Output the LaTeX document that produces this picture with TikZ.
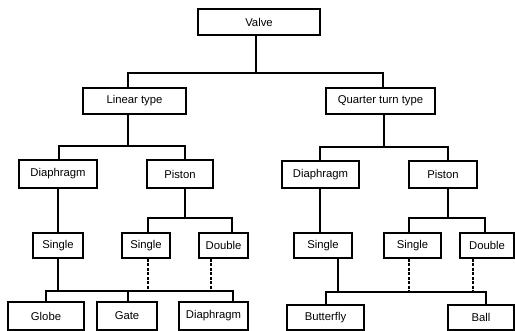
\documentclass[tikz,border=0pt]{standalone}
\usepackage{fontspec}
\setmainfont{Liberation Sans}
\begin{document}
\begin{tikzpicture}[x=1pt,y=-1pt,
  box/.style={draw,line width=1.2pt,rectangle,inner sep=0pt,font=\fontsize{11.3}{13}\selectfont},
  ln/.style={line width=1.2pt},
  dsh/.style={line width=1.2pt,dash pattern=on 3pt off 1.5pt}]
\useasboundingbox[fill=white] (0,0) rectangle (515,331);
% level 0
\node[box,minimum width=122pt,minimum height=26pt] (valve) at (259,22) {Valve};
% level 1
\node[box,minimum width=103pt,minimum height=26pt] (lin) at (134.5,101) {Linear type};
\node[box,minimum width=109pt,minimum height=26pt] (qt) at (380.5,101) {Quarter turn type};
% level 2
\node[box,minimum width=78pt,minimum height=28pt] (dia1) at (58,174) {Diaphragm};
\node[box,minimum width=66pt,minimum height=28pt] (pis1) at (180,174) {Piston};
\node[box,minimum width=77pt,minimum height=27pt] (dia2) at (320.5,174.5) {Diaphragm};
\node[box,minimum width=68pt,minimum height=27pt] (pis2) at (443,174.5) {Piston};
% level 3
\node[box,minimum width=50pt,minimum height=25pt] (sg1) at (58,245.5) {Single};
\node[box,minimum width=48pt,minimum height=25pt] (sg2) at (146,245.5) {Single};
\node[box,minimum width=49pt,minimum height=25pt] (db1) at (223.5,245.5) {Double};
\node[box,minimum width=58pt,minimum height=25pt] (sg3) at (323,245.5) {Single};
\node[box,minimum width=57pt,minimum height=25pt] (sg4) at (412.5,245.5) {Single};
\node[box,minimum width=54pt,minimum height=25pt] (db2) at (487,245.5) {Double};
% level 4
\node[box,minimum width=76pt,minimum height=28pt] (globe) at (46,316) {Globe};
\node[box,minimum width=60pt,minimum height=28pt] (gate) at (127,316) {Gate};
\node[box,minimum width=69pt,minimum height=28pt] (dia3) at (213.5,316) {Diaphragm};
\node[box,minimum width=77pt,minimum height=25pt] (bfly) at (325.5,317.5) {Butterfly};
\node[box,minimum width=66pt,minimum height=25pt] (ball) at (481,317.5) {Ball};
% junction coordinates
\coordinate (j0) at (256,73);
\coordinate (j0l) at (128,73);
\coordinate (j0r) at (383,73);
\coordinate (j1) at (128,146);
\coordinate (j1l) at (59,146);
\coordinate (j1r) at (185,146);
\coordinate (j2) at (384,147);
\coordinate (j2l) at (320,147);
\coordinate (j2r) at (448,147);
\coordinate (j3) at (185,218);
\coordinate (j3l) at (148,218);
\coordinate (j3r) at (232,218);
\coordinate (j4) at (448,218);
\coordinate (j4l) at (409,218);
\coordinate (j4r) at (485,218);
\coordinate (j5) at (58,291);
\coordinate (j5l) at (46,291);
\coordinate (j5m) at (128,291);
\coordinate (j5r) at (233,291);
\coordinate (j5a) at (148,291);
\coordinate (j5b) at (211,291);
\coordinate (j6) at (338,292);
\coordinate (j6l) at (326,292);
\coordinate (j6r) at (486,292);
\coordinate (j6a) at (409,292);
\coordinate (j6b) at (473,292);
% connectors
\draw[ln] (valve.south -| j0) -- (j0);
\draw[ln] (lin.north -| j0l) -- (j0l) -- (j0r) -- (qt.north -| j0r);
\draw[ln] (lin.south -| j1) -- (j1);
\draw[ln] (dia1.north -| j1l) -- (j1l) -- (j1r) -- (pis1.north -| j1r);
\draw[ln] (qt.south -| j2) -- (j2);
\draw[ln] (dia2.north -| j2l) -- (j2l) -- (j2r) -- (pis2.north -| j2r);
\draw[ln] (dia1.south -| sg1.north) -- (sg1.north);
\draw[ln] (dia2.south -| j2l) -- (sg3.north -| j2l);
\draw[ln] (pis1.south -| j3) -- (j3);
\draw[ln] (sg2.north -| j3l) -- (j3l) -- (j3r) -- (db1.north -| j3r);
\draw[ln] (pis2.south -| j4) -- (j4);
\draw[ln] (sg4.north -| j4l) -- (j4l) -- (j4r) -- (db2.north -| j4r);
\draw[ln] (sg1.south -| j5) -- (j5);
\draw[ln] (globe.north -| j5l) -- (j5l) -- (j5r) -- (dia3.north -| j5r);
\draw[ln] (j5m) -- (gate.north -| j5m);
\draw[dsh] (sg2.south -| j5a) -- (j5a);
\draw[dsh] (db1.south -| j5b) -- (j5b);
\draw[ln] (sg3.south -| j6) -- (j6);
\draw[ln] (bfly.north -| j6l) -- (j6l) -- (j6r) -- (ball.north -| j6r);
\draw[dsh] (sg4.south -| j6a) -- (j6a);
\draw[dsh] (db2.south -| j6b) -- (j6b);
\end{tikzpicture}
\end{document}
